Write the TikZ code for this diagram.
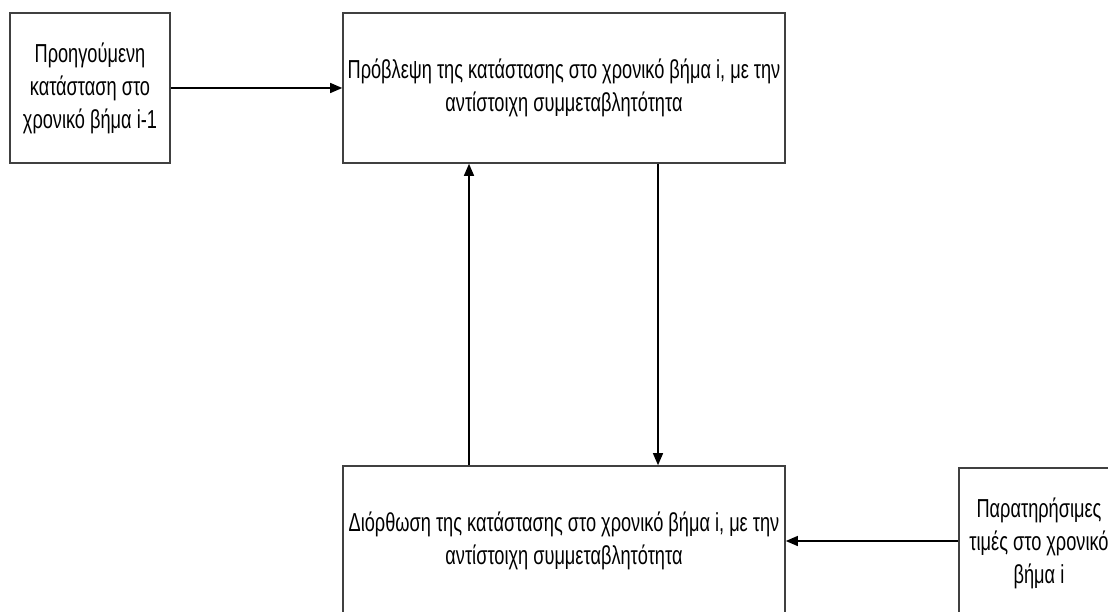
\documentclass[tikz,border=0pt]{standalone}
\usepackage{fontspec}
\newfontfamily\grfont[FakeStretch=0.7]{Liberation Sans}
\usetikzlibrary{arrows.meta}
\tikzset{
  blk/.style={draw=black!75,line width=1.6pt,fill=white,align=center,inner sep=0pt,
    font=\grfont\fontsize{26}{33}\selectfont},
  arr/.style={line width=1.3pt,-{Triangle[length=12pt,width=10pt]}}
}
\begin{document}
\begin{tikzpicture}[x=1pt,y=-1pt]
\pgfmathsetmacro{\kw}{442}
\pgfmathsetmacro{\kh}{150}
\pgfmathsetmacro{\ks}{160}
%frame
\clip(0,0)rectangle(1108,612);
\fill[white](0,0)rectangle(1108,612);
%boxes
\node[blk,minimum width=\ks,minimum height=\kh](prev)at(90,88){Προηγούμενη\\κατάσταση στο\\χρονικό βήμα i-1};
\node[blk,minimum width=\kw,minimum height=\kh](pred)at(564,88){Πρόβλεψη της κατάστασης στο χρονικό βήμα i, με την\\αντίστοιχη συμμεταβλητότητα};
\node[blk,minimum width=\kw,minimum height=\kh](corr)at(564,541){Διόρθωση της κατάστασης στο χρονικό βήμα i, με την\\αντίστοιχη συμμεταβλητότητα};
\node[blk,minimum width=\ks,minimum height=\kh](obs)at(1039,543){Παρατηρήσιμες\\τιμές στο χρονικό\\βήμα i};
%arrows
\coordinate(up)at(469,300);
\coordinate(dn)at(658,300);
\draw[arr](prev)--(pred);
\draw[arr](up|-corr.north)--(up|-pred.south);
\draw[arr](dn|-pred.south)--(dn|-corr.north);
\draw[arr](obs.west|-corr.east)--(corr.east);
\end{tikzpicture}
\end{document}
